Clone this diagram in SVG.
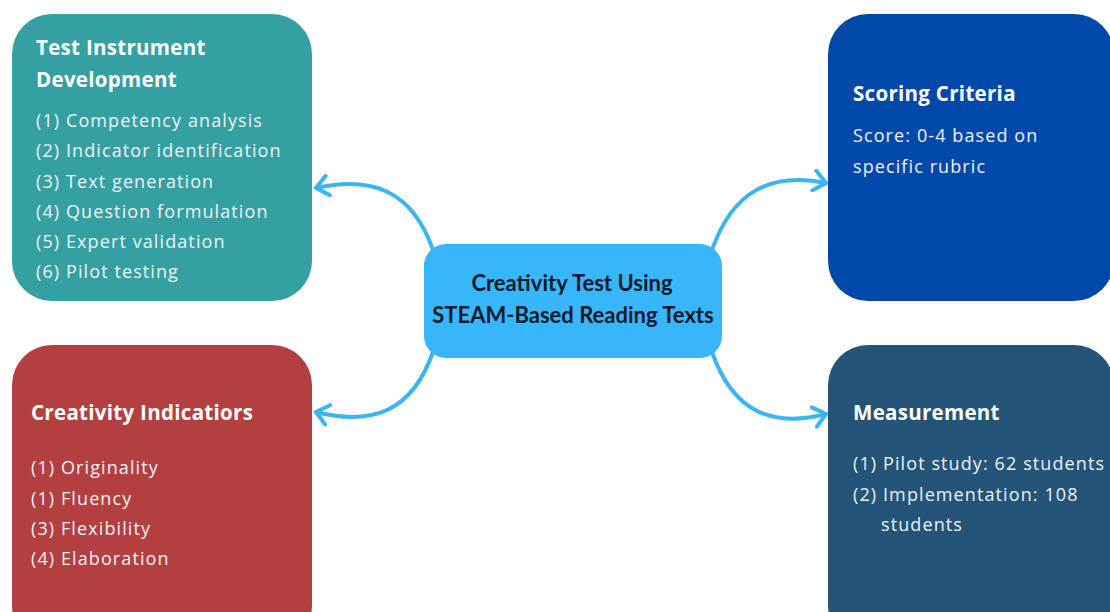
<svg xmlns="http://www.w3.org/2000/svg" width="1110" height="612" viewBox="0 0 1110 612">
  <style>
    .title { font-family: "Open Sans", "Noto Sans", sans-serif; font-weight: 700; font-size: 20.5px; letter-spacing: 0.3px; fill: #ffffff; }
    .item { font-family: "Open Sans", "Noto Sans", sans-serif; font-size: 18px; letter-spacing: 1.1px; fill: #eef3f5; }
    .hub { font-family: Lato, "Open Sans", sans-serif; font-weight: 700; font-size: 22px; fill: #0b1a2a; text-anchor: middle; }
    .link { fill: none; stroke: #3bb4f2; stroke-width: 4; stroke-linecap: round; }
  </style>
  <defs>
    <marker id="chevron" viewBox="0 0 16 24" refX="14" refY="12" markerWidth="16" markerHeight="24" markerUnits="userSpaceOnUse" orient="auto">
      <path d="M2,2 L14,12 L2,22" fill="none" stroke="#3bb4f2" stroke-width="4" stroke-linecap="round" stroke-linejoin="round"/>
    </marker>
  </defs>
  <rect width="1110" height="612" fill="#ffffff"/>

  <!-- curved links from the hub to each panel -->
  <g id="connectors">
    <path class="link" d="M433,250 C412,190 372,176 316,188" marker-end="url(#chevron)"/>
    <path class="link" d="M433,352 C412,412 372,426 316,412" marker-end="url(#chevron)"/>
    <path class="link" d="M712,250 C733,190 772,172 826,183" marker-end="url(#chevron)"/>
    <path class="link" d="M712,352 C733,412 772,428 826,414" marker-end="url(#chevron)"/>
  </g>

  <g id="hub">
    <rect x="424" y="244" width="298" height="114" rx="22" fill="#38b6fc"/>
    <text class="hub" x="572" y="291">Creativity Test Using</text>
    <text class="hub" x="573" y="323">STEAM-Based Reading Texts</text>
  </g>

  <g id="instrument">
    <rect x="12" y="14" width="300" height="287" rx="40" fill="#35a0a2"/>
    <text class="title" x="36" y="55">Test Instrument</text>
    <text class="title" x="36" y="87">Development</text>
    <text class="item" x="36" y="127">(1) Competency analysis</text>
    <text class="item" x="36" y="157">(2) Indicator identification</text>
    <text class="item" x="36" y="188">(3) Text generation</text>
    <text class="item" x="36" y="218">(4) Question formulation</text>
    <text class="item" x="36" y="248">(5) Expert validation</text>
    <text class="item" x="36" y="278">(6) Pilot testing</text>
  </g>

  <g id="indicators">
    <rect x="12" y="345" width="300" height="300" rx="40" fill="#b33f40"/>
    <text class="title" x="31" y="420">Creativity Indicatiors</text>
    <text class="item" x="31" y="474">(1) Originality</text>
    <text class="item" x="31" y="505">(1) Fluency</text>
    <text class="item" x="31" y="535">(3) Flexibility</text>
    <text class="item" x="31" y="565">(4) Elaboration</text>
  </g>

  <g id="scoring">
    <rect x="828" y="14" width="286" height="287" rx="40" fill="#0149a8"/>
    <text class="title" x="853" y="101">Scoring Criteria</text>
    <text class="item" x="853" y="142">Score: 0-4 based on</text>
    <text class="item" x="853" y="173">specific rubric</text>
  </g>

  <g id="measurement">
    <rect x="828" y="345" width="286" height="300" rx="40" fill="#245477"/>
    <text class="title" x="853" y="420">Measurement</text>
    <text class="item" x="853" y="470">(1) Pilot study: 62 students</text>
    <text class="item" x="853" y="501">(2) Implementation: 108</text>
    <text class="item" x="881" y="531">students</text>
  </g>
</svg>
